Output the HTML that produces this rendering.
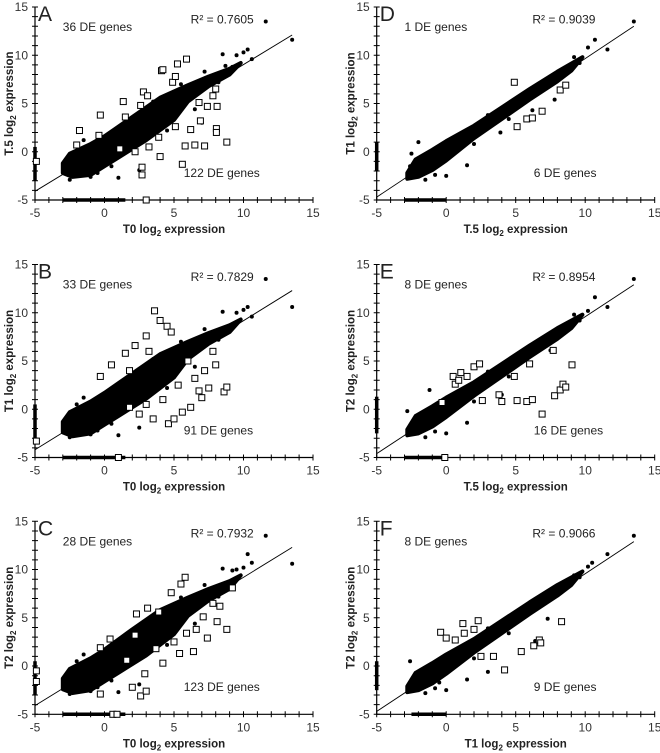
<!DOCTYPE html>
<html><head><meta charset="utf-8"><style>
html,body{margin:0;padding:0;background:#fff;}
svg{display:block;font-family:"Liberation Sans",sans-serif;}
</style></head><body>
<svg id="fig" width="660" height="753" viewBox="0 0 660 753"></svg>
<script>
// ---- data (log2 expression units) ----
const panelLetters = ["A","B","C","D","E","F"];
const xTitles = ["T0","T0","T0","T.5","T.5","T1"];
const yTitles = ["T.5","T1","T2","T1","T2","T2"];
const r2Labels = ["R² = 0.7605","R² = 0.7829","R² = 0.7932","R² = 0.9039","R² = 0.8954","R² = 0.9066"];
const upCounts = ["36 DE genes","33 DE genes","28 DE genes","1 DE genes","8 DE genes","8 DE genes"];
const downCounts = ["122 DE genes","91 DE genes","123 DE genes","6 DE genes","16 DE genes","9 DE genes"];
const lineStartY = [-4.1,-4.2,-4.1,-4.7,-4.6,-4.7];
const lineEndY = [12.1,12.3,12.3,13.0,12.9,12.9];
const tickValues = [-5,0,5,10,15];

const cloudA = [[-3,-1.2],[-2.5,-0.2],[-1,0.8],[0,1.6],[2,3.6],[4,5.6],[6,6.9],[7.5,7.8],[9,8.6],[9.8,9.2],[9,8.0],[7.5,6.8],[6,5.2],[5,3.3],[3,1.2],[1,-0.6],[0,-1.5],[-1,-2.4],[-2.3,-2.6],[-3,-2.2]];
const cloudB = [[-3,-1.3],[-2.5,-0.3],[-1,0.8],[0,1.7],[2,3.7],[4,5.7],[6,7.0],[7.5,7.9],[9,8.7],[9.8,9.3],[9,8.0],[7.5,6.8],[6,5.2],[5,3.3],[3,1.1],[1,-0.7],[0,-1.6],[-1,-2.5],[-2.3,-2.8],[-3,-2.4]];
const cloudC = [[-3,-1.3],[-2.5,-0.3],[-1,0.8],[0,1.7],[2,3.8],[4,5.8],[6,7.1],[7.5,8.0],[9,8.8],[9.8,9.4],[9,8.0],[7.5,6.8],[6,5.2],[5,3.3],[3,1.1],[1,-0.7],[0,-1.6],[-1,-2.5],[-2.3,-2.8],[-3,-2.4]];
const cloudD = [[-2.8,-2.2],[-2.2,-0.8],[-1,0.2],[0,1.1],[2,2.7],[4,4.6],[6,6.5],[8,8.3],[9.8,9.8],[9,8.4],[8,7.3],[6,5.4],[4,3.4],[2,1.4],[0,-0.9],[-1,-1.9],[-2,-2.6],[-2.8,-2.8]];
const cloudE = [[-2.8,-2.1],[-2.2,-0.7],[-1,0.3],[0,1.2],[2,2.8],[4,4.7],[6,6.6],[8,8.4],[9.8,9.8],[9,8.4],[8,7.3],[6,5.4],[4,3.4],[2,1.4],[0,-0.8],[-1,-1.8],[-2,-2.5],[-2.8,-2.7]];
const cloudF = [[-2.8,-2.1],[-2.2,-0.7],[-1,0.3],[0,1.2],[2,2.8],[4,4.7],[6,6.6],[8,8.4],[9.8,9.8],[9,8.4],[8,7.3],[6,5.4],[4,3.4],[2,1.4],[0,-0.8],[-1,-1.8],[-2,-2.5],[-2.8,-2.7]];

const dotsA = [[11.6,13.5],[13.5,11.6],[10.3,10.6],[10,10.3],[9.5,10],[8.5,10.1],[10.6,9.6],[9.2,8.8],[8.7,8.9],[-2.5,-2.9],[-1,-2.6],[1,-2.7],[-2.8,-1],[2.5,-1.9],[-1.5,1.2],[7,3],[-2,0.5],[-0.5,-2.2],[1.5,2.8],[3.5,5.2],[5.5,7],[6.5,4.4],[4.5,2.2],[0.5,-1.5],[-2.6,-2.2],[7.2,8.3],[8.2,7.2]];
const dotsB = [[11.6,13.5],[13.5,10.6],[10.3,10.6],[10,10.3],[9.5,10],[8.5,10.1],[10.6,9.6],[9.2,8.8],[-2.5,-2.9],[-1,-2.6],[1,-2.7],[-2.8,-1],[2.5,-1.9],[-1.5,1.2],[-2,0.5],[-0.5,-2.2],[1.5,2.8],[3.5,5.2],[5.5,7],[6.5,4.4],[4.5,2.2],[0.5,-1.5],[7.2,8.3],[8.2,7.2]];
const dotsC = [[11.6,13.5],[13.5,10.6],[10.3,11.6],[10,10.2],[9.5,10],[8.5,10.1],[10.6,10.7],[9.2,9.9],[-2.5,-2.9],[-1,-2.6],[1,-2.7],[-2.8,-1],[2.5,-1.9],[-1.5,1.2],[-2,0.5],[-0.5,-2.2],[1.5,2.8],[3.5,5.2],[5.5,7.1],[6.5,4.4],[4.5,2.2],[0.5,-1.5],[7.2,8.4],[8.2,7.2]];
const dotsD = [[13.5,13.5],[11.6,10.6],[10.7,11.6],[10.2,10.8],[9.2,9.8],[8.5,8.5],[7.8,5.4],[6.2,4.3],[3.9,2.0],[-2.5,-0.2],[-1.5,-2.9],[0,-2.5],[1.5,-1.4],[-2,1],[-1.8,-0.5],[-0.8,-2.4],[1,1.8],[3,3.8],[5,5.4],[7,7.3],[2,0.8],[4.5,3.4],[-2.6,-1.5],[9.6,9.2]];
const dotsE = [[13.5,13.5],[11.6,10.6],[10.7,11.6],[10.2,10.2],[9.2,9.8],[8.5,8.5],[7.5,6.1],[4,1.5],[-2.8,-0.2],[-1.5,-2.9],[0,-2.5],[1.5,-1.4],[-1.2,2],[-2.5,-1.8],[-1.8,-0.4],[-0.8,-2.3],[1,1.9],[3,3.9],[5,5.5],[7,7.4],[2,0.8],[4.5,3.4],[9.6,9.2]];
const dotsF = [[13.5,13.5],[11.6,11.6],[10.5,10.7],[10.2,10.3],[9.2,9.4],[7.3,4.9],[6.4,2.6],[-2.6,0.5],[-1.5,-2.8],[0,-2.5],[1.5,-1.4],[-0.5,-1.7],[3,-0.6],[-2.5,-1.8],[-1.8,-0.4],[-0.8,-2.3],[1,1.9],[3,3.9],[5,5.5],[7,7.4],[2,0.8],[4.5,3.4],[9.6,9.2]];

const squaresA = [[5.25,9.1],[5.9,9.6],[4.1,8.4],[4.2,8.5],[4.9,7.2],[5.1,7.8],[2.8,6.2],[3.1,5.8],[1.35,5.2],[2.6,4.8],[-0.3,3.8],[1.5,3.6],[-1.8,2.2],[-0.4,1.7],[-2,0.7],[8.8,1.0],[8.05,2.4],[8.05,2.0],[7.2,0.6],[6.5,0.7],[5.8,0.6],[5.6,-1.3],[4,-0.5],[2.7,-2.4],[2.7,-1.6],[6.2,2.3],[6.9,3.2],[7.4,4.7],[8.1,4.7],[7.8,5.8],[8,6.5],[6.8,5.1],[5.1,2.6],[3.9,1.5],[3.2,0.5],[2.2,0.0],[1.1,0.3],[-4.9,-1],[3,-5]];
const squaresB = [[3.6,10.2],[4,9.2],[4.5,8.6],[3,7.6],[2.2,6.6],[1.5,5.8],[0.5,4.6],[-0.3,3.4],[1.8,4],[3.2,6],[4.8,8],[8.6,1.8],[8.8,2.3],[7.5,2.2],[7,1.2],[6.2,0.2],[5.6,-0.3],[4.6,-1.5],[3.5,-1],[3,0.5],[6.5,3.2],[7.2,4],[8,4.6],[7.8,6],[6,5],[5.3,2.5],[4.2,1],[2.5,-0.5],[1.8,0.2],[6.8,1.9],[5,-1],[-4.9,-3.3],[1,-5]];
const squaresC = [[5.8,9.2],[5.5,8.5],[4.8,7.6],[-0.3,1.9],[0.4,2.8],[2.3,5.4],[3.1,6],[3.9,5.6],[2.2,3.2],[8.8,3.8],[8.1,4.6],[8.3,6.2],[7.8,6.5],[7.1,5.1],[6.6,3.8],[5.9,3.4],[5.4,1.3],[4.2,0.3],[2.9,-0.8],[2,-2.2],[2.6,-3.1],[3,-2.6],[-0.3,-2.9],[-4.9,-1.6],[-4.9,-0.5],[0.6,-5],[0.9,-5],[6.4,1.5],[5,2.5],[3.7,1.8],[1.6,0.6],[7.4,2.9],[9.2,8.1]];
const squaresD = [[4.9,7.2],[5.1,2.6],[5.8,3.4],[6.2,3.5],[6.9,4.2],[8.2,6.4],[8.6,6.9]];
const squaresE = [[0.5,3.4],[0.65,2.6],[0.9,3],[1.05,3.8],[1.5,3.4],[2,4.4],[2.4,4.7],[-0.3,0.7],[2.6,0.9],[3.8,1.5],[4,0.8],[4.9,3.4],[5.1,0.9],[5.8,0.8],[6.2,1],[6,4.7],[7.7,6.1],[6.9,-0.5],[7.8,1.4],[8.2,2],[8.4,2.6],[8.6,2.3],[9.05,4.6],[-0.1,-5]];
const squaresF = [[-0.4,3.5],[0,2.9],[0.65,2.7],[1.2,4.4],[1.3,3.4],[2,3.8],[2.3,4.7],[2.5,1],[3.4,1],[4.2,-0.4],[5.4,1.5],[6.3,2.1],[6.7,2.7],[6.8,2.4],[8.3,4.6]];

const leftRailY = [[-3,0.5],[-3,0.5],[-3,0.5],[-2,1],[-2.5,1.3],[-2.5,0.5]];
const bottomRailX = [[-3,1.5],[-3,1.5],[-3,1.5],[-3,0],[-3,0],[-2.5,0]];

const clouds=[cloudA,cloudB,cloudC,cloudD,cloudE,cloudF];
const dotSets=[dotsA,dotsB,dotsC,dotsD,dotsE,dotsF];
const squareSets=[squaresA,squaresB,squaresC,squaresD,squaresE,squaresF];

const NS="http://www.w3.org/2000/svg";
const svg=document.getElementById("fig");
function mk(tag,attrs,parent){const e=document.createElementNS(NS,tag);for(const k in attrs)e.setAttribute(k,attrs[k]);(parent||svg).appendChild(e);return e;}

const colX=[35,376.7], rowY=[7,264.5,521.3];
const pxX=13.9, pxY=9.65;

for(let p=0;p<6;p++){
  const col=p<3?0:1,row=p%3;
  const X=v=>colX[col]+(v+5)*pxX;
  const Y=v=>rowY[row]+(15-v)*pxY;
  const g=mk("g",{});
  
  
  const ax=mk("path",{d:`M${X(-5)} ${Y(15)} V${Y(-5)} H${X(15)}`,stroke:"#000","stroke-width":1.2,fill:"none"},g);
  
  
  let td="";
  for(let v=-5;v<=15;v++){td+=`M${X(v)} ${Y(-5)-3}v6M${X(-5)-3} ${Y(v)}h6`;}
  const ticks=mk("path",{d:td,stroke:"#000","stroke-width":1},g);
  
  
  tickValues.forEach(v=>{
    const tx=mk("text",{x:X(v),y:Y(-5)+17,"font-size":12,"text-anchor":"middle",fill:"#333"},g);tx.textContent=v;
    
    
    const ty=mk("text",{x:X(-5)-7,y:Y(v)+4,"font-size":12,"text-anchor":"end",fill:"#333"},g);ty.textContent=v;
    
    
  });
  const xt=mk("text",{x:(X(-5)+X(15))/2,y:Y(-5)+33,"font-size":11.5,"font-weight":"bold","text-anchor":"middle",fill:"#222"},g);
  xt.innerHTML=xTitles[p]+' log<tspan font-size="8" dy="3">2</tspan><tspan dy="-3"> expression</tspan>';
  
  
  const yc=Y(5), xc=colX[col]-22;
  const yt=mk("text",{x:xc,y:yc,"font-size":11.5,"font-weight":"bold","text-anchor":"middle",fill:"#222",transform:`rotate(-90 ${xc} ${yc})`},g);
  yt.innerHTML=yTitles[p]+' log<tspan font-size="8" dy="3">2</tspan><tspan dy="-3"> expression</tspan>';
  
  
  const lt=mk("text",{x:X(-5)+3,y:Y(15)+14,"font-size":21,fill:"#222"},g);lt.textContent=panelLetters[p];
  
  
  const lr=leftRailY[p];
  const rl=mk("line",{x1:X(-5),x2:X(-5),y1:Y(lr[0]),y2:Y(lr[1]),stroke:"#000","stroke-width":3.5},g);
  
  
  const br=bottomRailX[p];
  const bl=mk("line",{x1:X(br[0]),x2:X(br[1]),y1:Y(-5),y2:Y(-5),stroke:"#000","stroke-width":3.5},g);
  
  
  const cpts=clouds[p].map(d=>X(d[0])+","+Y(d[1])).join(" ");
  const cl=mk("polygon",{points:cpts,fill:"#000",stroke:"#000","stroke-width":4,"stroke-linejoin":"round"},g);
  
  
  dotSets[p].forEach(d=>{
    const c=mk("circle",{cx:X(d[0]),cy:Y(d[1]),r:2,fill:"#000"},g);
    
    
  });
  const rg=mk("line",{x1:X(-5),y1:Y(lineStartY[p]),x2:X(13.5),y2:Y(lineEndY[p]),stroke:"#000","stroke-width":0.9},g);
  
  
  squareSets[p].forEach(d=>{
    const s=mk("rect",{x:X(d[0])-3,y:Y(d[1])-3,width:6,height:6,fill:"#fff",stroke:"#000","stroke-width":1},g);
    
    
  });
  const u=mk("text",{x:X(-3),y:Y(12.5),"font-size":12,fill:"#222"},g);u.textContent=upCounts[p];
  
  
  const r2=mk("text",{x:X(6.2),y:Y(13.3),"font-size":12,fill:"#222"},g);r2.textContent=r2Labels[p];
  
  
  const dn=mk("text",{x:X(col?6.3:5.7),y:Y(-2.6),"font-size":12,fill:"#222"},g);dn.textContent=downCounts[p];
  
  
}
</script>
</body></html>
